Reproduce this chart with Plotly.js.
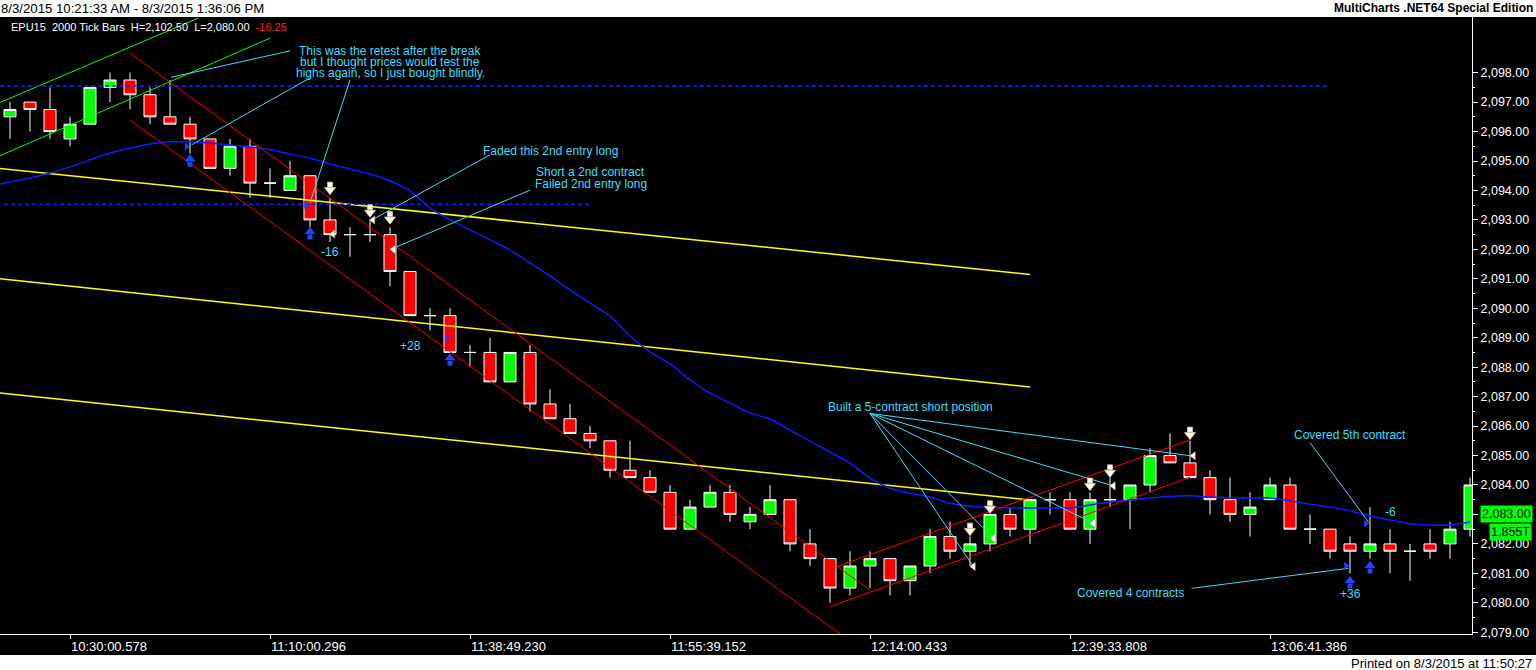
<!DOCTYPE html>
<html><head><meta charset="utf-8">
<script src="https://cdn.plot.ly/plotly-3.0.1.min.js"></script>
<style>html,body{margin:0;padding:0;background:#000;overflow:hidden}#chart{width:1536px;height:670px}</style>
</head><body><div id="chart"></div>
<script>
// ---------- DATA ----------
const barIndex = [0,1,2,3,4,5,6,7,8,9,10,11,12,13,14,15,16,17,18,19,20,21,22,23,24,25,26,27,28,29,30,31,32,33,34,35,36,37,38,39,40,41,42,43,44,45,46,47,48,49,50,51,52,53,54,55,56,57,58,59,60,61,62,63,64,65,66,67,68,69,70,71,72,73];
const openP  = [2096.5,2097.0,2096.75,2095.75,2096.25,2097.5,2097.75,2097.25,2096.5,2096.25,2095.75,2094.75,2095.5,2094.25,2094.0,2094.5,2093.0,2092.5,2092.5,2092.5,2091.25,2089.75,2089.75,2088.5,2088.5,2087.5,2088.5,2086.75,2086.25,2085.75,2085.5,2084.5,2084.25,2083.75,2082.5,2083.25,2083.75,2082.75,2083.0,2083.5,2082.0,2081.5,2080.5,2081.25,2081.5,2080.75,2081.25,2082.25,2081.75,2082.0,2083.0,2082.5,2083.5,2083.5,2082.5,2083.5,2083.5,2084.0,2085.0,2084.75,2084.25,2083.5,2083.0,2083.5,2084.0,2082.5,2082.5,2082.0,2081.75,2082.0,2081.75,2082.0,2082.0,2082.5];
const highP  = [2097.0,2097.0,2097.5,2096.5,2097.5,2098.0,2098.0,2097.5,2097.75,2096.5,2095.75,2095.75,2095.75,2094.75,2095.0,2094.5,2093.75,2092.75,2093.0,2092.75,2091.25,2090.0,2090.0,2088.75,2089.0,2088.5,2088.75,2087.25,2086.75,2086.0,2085.5,2085.5,2084.5,2084.0,2083.5,2084.0,2084.0,2083.25,2084.0,2083.5,2082.5,2081.5,2081.75,2081.75,2081.5,2081.25,2082.5,2082.75,2082.25,2083.0,2083.25,2083.5,2083.75,2083.75,2083.75,2084.25,2084.0,2085.25,2085.75,2085.5,2084.5,2084.25,2083.75,2084.25,2084.25,2083.0,2082.5,2082.25,2083.25,2082.5,2082.0,2082.5,2082.75,2084.25];
const lowP   = [2095.75,2096.0,2095.75,2095.5,2096.25,2097.0,2096.75,2096.25,2096.25,2095.25,2094.75,2094.5,2093.75,2093.75,2094.0,2092.75,2092.25,2091.75,2092.25,2090.75,2089.75,2089.25,2088.5,2088.0,2087.5,2087.5,2086.5,2086.25,2085.75,2085.25,2084.25,2084.25,2083.75,2082.5,2082.5,2083.25,2082.75,2082.5,2083.0,2081.75,2081.25,2080.0,2080.25,2080.5,2080.25,2080.25,2081.0,2081.5,2081.25,2081.75,2082.25,2082.0,2083.0,2082.5,2082.0,2083.25,2082.5,2083.75,2084.75,2084.25,2083.0,2082.75,2082.25,2083.5,2082.5,2082.0,2081.5,2081.0,2081.5,2081.0,2080.75,2081.5,2081.5,2082.25];
const closeP = [2096.75,2096.75,2096.0,2096.25,2097.5,2097.75,2097.25,2096.5,2096.25,2095.75,2094.75,2095.5,2094.25,2094.25,2094.5,2093.0,2092.5,2092.5,2092.5,2091.25,2089.75,2089.75,2088.5,2088.5,2087.5,2088.5,2086.75,2086.25,2085.75,2085.5,2084.5,2084.25,2083.75,2082.5,2083.25,2083.75,2083.0,2083.0,2083.5,2082.0,2081.5,2080.5,2081.25,2081.5,2080.75,2081.25,2082.25,2081.75,2082.0,2083.0,2082.5,2083.5,2083.5,2082.5,2083.5,2083.5,2084.0,2085.0,2084.75,2084.25,2083.5,2083.0,2083.25,2084.0,2082.5,2082.5,2081.75,2081.75,2082.0,2081.75,2081.75,2081.75,2082.5,2084.0];
const maIndex  = [-0.5,0,1,2,3,4,5,6,7,8,9,10,11,12,13,14,15,16,17,18,19,20,21,22,23,24,25,26,27,28,29,30,31,32,33,34,35,36,37,38,39,40,41,42,43,44,45,46,47,48,49,50,51,52,53,54,55,56,57,58,59,60,61,62,63,64,65,66,67,68,69,70,71,72,73];
const maValues = [2094.22,2094.29,2094.42,2094.59,2094.80,2095.04,2095.27,2095.44,2095.58,2095.65,2095.65,2095.61,2095.54,2095.48,2095.38,2095.24,2095.10,2094.90,2094.73,2094.56,2094.32,2093.98,2093.41,2093.00,2092.66,2092.32,2091.98,2091.54,2091.10,2090.62,2090.18,2089.74,2089.06,2088.52,2088.11,2087.57,2087.12,2086.78,2086.44,2086.24,2085.86,2085.49,2085.12,2084.74,2084.23,2083.89,2083.72,2083.59,2083.38,2083.28,2083.25,2083.22,2083.22,2083.22,2083.22,2083.32,2083.42,2083.49,2083.56,2083.61,2083.63,2083.59,2083.56,2083.56,2083.56,2083.46,2083.35,2083.25,2083.12,2082.95,2082.81,2082.68,2082.64,2082.64,2082.74];

const xTickIdx  = [3,13,23,33,43,53,63];
const xTickText = ['10:30:00.578','11:10:00.296','11:38:49.230','11:55:39.152','12:14:00.433','12:39:33.808','13:06:41.386'];
const yTickVals = [2079,2080,2081,2082,2083,2084,2085,2086,2087,2088,2089,2090,2091,2092,2093,2094,2095,2096,2097,2098];

// trend lines: [start index, end index] and [start price, end price]
const greenLinesX  = [[-0.5, 9.4], [-0.5, 13.0]];
const greenLinesY  = [[2096.99, 2099.85], [2095.18, 2099.17]];
const redLinesX    = [[6, 43], [6, 42], [41.33, 59], [41, 59]];
const redLinesY    = [[2098.66, 2080.43], [2096.39, 2078.70], [2081.23, 2085.53], [2079.87, 2084.26]];
const yellowLinesX = [[-0.5, 51], [-0.5, 51], [-0.5, 51]];
const yellowLinesY = [[2094.75, 2091.15], [2091.00, 2087.33], [2087.12, 2083.49]];
const dashLinesX   = [[-0.5, 66], [-0.3, 29]];
const dashLinesY   = [[2097.55, 2097.55], [2093.53, 2093.53]];

// note connectors
const connFromX = [14, 15, 17, 24, 26, 43, 43, 43, 43, 43, 59.08, 65];
const connFromY = [2098.74, 2097.82, 2097.75, 2095.21, 2094.01, 2086.43, 2086.43, 2086.43, 2086.43, 2086.43, 2080.49, 2085.44];
const connToX   = [8.05, 9.08, 15, 18.1, 19.17, 48.17, 49.17, 54.17, 55.17, 59.17, 66.92, 67.92];
const connToY   = [2097.84, 2095.55, 2093.58, 2093.0, 2092.04, 2081.23, 2082.19, 2082.70, 2083.97, 2084.98, 2081.17, 2082.75];

// notes
const noteText = ['This was the retest after the break','but I thought prices would test the','highs again, so I just bought blindly.','Faded this 2nd entry long','Short a 2nd contract','Failed 2nd entry long','-16','+28','Built a 5-contract short position','Covered 4 contracts','Covered 5th contract','-6','+36'];
const noteX = [19, 19, 19, 27, 29.03, 29.03, 16, 20, 45, 56, 67, 69, 67];
const noteY = [2098.74, 2098.36, 2097.99, 2095.34, 2094.62, 2094.22, 2091.92, 2088.72, 2086.66, 2080.32, 2085.70, 2083.09, 2080.29];

// trade markers
const shortArrowIdx   = [16, 18, 19, 48, 49, 54, 55, 59];
const shortArrowPrice = [2094.11, 2093.34, 2093.11, 2082.53, 2083.29, 2084.06, 2084.51, 2085.79];
const sellFillIdx     = [16.15, 18.15, 19.17, 48.17, 49.17, 54.17, 55.17, 59.17];
const sellFillPrice   = [2092.52, 2093.0, 2092.0, 2081.23, 2082.19, 2082.70, 2083.97, 2084.99];
const longArrowIdx    = [9, 15, 22, 67, 68];
const longArrowPrice  = [2094.98, 2092.51, 2088.22, 2080.66, 2081.17];
const buyFillIdx      = [8.83, 14.8, 21.85, 66.8, 67.8];
const buyFillPrice    = [2095.49, 2093.51, 2088.97, 2081.26, 2082.70];

const lastPrice = 2083.00;
const lastVolumeText = '1,855T';
const headerText = 'EPU15\u00a0\u00a02000 Tick Bars\u00a0\u00a0H=2,102.50\u00a0\u00a0L=2,080.00\u00a0\u00a0';
const headerChange = '-16.25';

// ---------- BUILD ----------
const Y_RANGE = [2078.94, 2099.89];
const PLOT_H = 617;
const pxPerPt = PLOT_H / (Y_RANGE[1] - Y_RANGE[0]);
const F = 'Arial, "Liberation Sans", sans-serif';
const CYAN = '#36DDFF';

function segTrace(xs, ys, color, width, dash) {
  const X = [], Y = [];
  xs.forEach((seg, i) => { X.push(seg[0], seg[1], null); Y.push(ys[i][0], ys[i][1], null); });
  return {type:'scatter', mode:'lines', x:X, y:Y, hoverinfo:'skip',
          line:{color:color, width:width, dash:dash || 'solid'}};
}

const traces = [];
traces.push({type:'candlestick', x:barIndex, open:openP, high:highP, low:lowP, close:closeP,
  increasing:{line:{color:'#ffffff', width:1}, fillcolor:'#00FF00'},
  decreasing:{line:{color:'#ffffff', width:1}, fillcolor:'#FF0000'},
  whiskerwidth:0, hoverinfo:'skip'});
traces.push(segTrace(yellowLinesX, yellowLinesY, '#FFFF00', 1.5));
traces.push({type:'scatter', mode:'lines', x:maIndex, y:maValues, hoverinfo:'skip',
  line:{color:'#0A1EFF', width:1.5, shape:'spline', smoothing:0.6}});
traces.push(segTrace(greenLinesX, greenLinesY, '#00FF00', 1));
traces.push(segTrace(redLinesX, redLinesY, '#FF0000', 1));
traces.push(segTrace(dashLinesX, dashLinesY, '#1020FF', 1.5, '4px,3px'));

// connectors
const cX = [], cY = [];
connFromX.forEach((v, i) => { cX.push(v, connToX[i], null); cY.push(connFromY[i], connToY[i], null); });
traces.push({type:'scatter', mode:'lines', x:cX, y:cY, hoverinfo:'skip', line:{color:CYAN, width:1}});

// fills
traces.push({type:'scatter', mode:'markers', x:buyFillIdx, y:buyFillPrice, hoverinfo:'skip',
  marker:{symbol:'triangle-right', size:7, color:'#1E3CFF', line:{width:0}}});
traces.push({type:'scatter', mode:'markers', x:sellFillIdx, y:sellFillPrice, hoverinfo:'skip',
  marker:{symbol:'triangle-left', size:7, color:'#ffffff', line:{color:'#C8B890', width:0.6}}});

// block arrows (head + stem)
const headOff = 2.7 / pxPerPt, stemOff = 2.6 / pxPerPt;
traces.push({type:'scatter', mode:'markers', x:shortArrowIdx, y:shortArrowPrice.map(p => p + stemOff), hoverinfo:'skip',
  marker:{symbol:'square', size:5, color:'#ffffff', line:{color:'#D8C890', width:0.8}}});
traces.push({type:'scatter', mode:'markers', x:shortArrowIdx, y:shortArrowPrice.map(p => p - headOff), hoverinfo:'skip',
  marker:{symbol:'triangle-down', size:9.5, color:'#ffffff', line:{color:'#D8C890', width:0.8}}});
traces.push({type:'scatter', mode:'markers', x:longArrowIdx, y:longArrowPrice.map(p => p - stemOff), hoverinfo:'skip',
  marker:{symbol:'square', size:5, color:'#1E46FF', line:{width:0}}});
traces.push({type:'scatter', mode:'markers', x:longArrowIdx, y:longArrowPrice.map(p => p + headOff), hoverinfo:'skip',
  marker:{symbol:'triangle-up', size:9.5, color:'#1E46FF', line:{width:0}}});

// last price pointer
traces.push({type:'scatter', mode:'markers', x:[73.42], y:[lastPrice], cliponaxis:false, hoverinfo:'skip',
  marker:{symbol:'triangle-left', size:13, color:'#00FF00', line:{width:0}}});

const annotations = noteText.map((t, i) => ({
  x:noteX[i], y:noteY[i], xref:'x', yref:'y', text:t, showarrow:false,
  xanchor:'center', yanchor:'middle', font:{family:F, size:12, color:CYAN}
}));
const py = px => (634 - px) / PLOT_H;
annotations.push({xref:'paper', yref:'paper', x:9/1472, y:py(27), xanchor:'left', yanchor:'middle', showarrow:false,
  text: headerText + '<span style="color:#FF2020">' + headerChange + '</span>', font:{family:F, size:11, color:'#ffffff'}});
annotations.push({xref:'paper', yref:'paper', x:-0.001, y:py(8), xanchor:'left', yanchor:'middle', showarrow:false,
  text:'8/3/2015 10:21:33 AM - 8/3/2015 1:36:06 PM', font:{family:F, size:13.2, color:'#000000'}});
annotations.push({xref:'paper', yref:'paper', x:1535/1472, y:py(8), xanchor:'right', yanchor:'middle', showarrow:false,
  text:'<b>MultiCharts .NET64 Special Edition</b>', font:{family:F, size:12, color:'#000000'}});
annotations.push({xref:'paper', yref:'paper', x:1534/1472, y:py(663), xanchor:'right', yanchor:'middle', showarrow:false,
  text:'Printed on 8/3/2015 at 11:50:27', font:{family:F, size:13, color:'#000000'}});
annotations.push({xref:'paper', yref:'y', x:1480/1472, y:lastPrice, xanchor:'left', yanchor:'middle', showarrow:false,
  text:lastPrice.toLocaleString('en-US', {minimumFractionDigits:2}), bgcolor:'#00FF00', borderpad:1,
  font:{family:F, size:12.5, color:'#000000'}});
annotations.push({xref:'paper', yref:'paper', x:1489/1472, y:py(532), xanchor:'left', yanchor:'middle', showarrow:false,
  text:lastVolumeText, bgcolor:'#00FF00', borderpad:1, font:{family:F, size:12.5, color:'#000000'}});

const minorVals = yTickVals.slice(0, -1).map(v => v + 0.5);

const layout = {
  width:1536, height:670,
  margin:{l:0, r:64, t:17, b:36, pad:0},
  paper_bgcolor:'#000000', plot_bgcolor:'#000000',
  showlegend:false, hovermode:false,
  boxgap:0.25, boxgroupgap:0.2,
  xaxis:{range:[-0.5, 73.1], showgrid:false, zeroline:false, showline:true, linecolor:'#ffffff', linewidth:1,
    tickmode:'array', tickvals:xTickIdx, ticktext:xTickText, ticks:'outside', ticklen:4, tickcolor:'#ffffff',
    ticklabelposition:'outside right', tickfont:{family:F, size:13, color:'#ffffff'},
    rangeslider:{visible:false}, fixedrange:true},
  yaxis:{range:Y_RANGE, side:'right', showgrid:false, zeroline:false, showline:true, linecolor:'#ffffff', linewidth:1,
    tickmode:'array', tickvals:yTickVals, tickformat:',.2f', ticks:'outside', ticklen:5, tickcolor:'#ffffff',
    tickfont:{family:F, size:12.5, color:'#ffffff'}, fixedrange:true,
    minor:{tickmode:'array', tickvals:minorVals, ticks:'outside', ticklen:2, tickcolor:'#ffffff', showgrid:false}},
  shapes:[
    {type:'rect', xref:'paper', yref:'paper', x0:-0.01, x1:1.06, y0:1, y1:1.1, fillcolor:'#ffffff', line:{width:0}, layer:'below'},
    {type:'rect', xref:'paper', yref:'paper', x0:-0.01, x1:1.06, y0:-0.1, y1:py(655), fillcolor:'#ffffff', line:{width:0}, layer:'below'}
  ],
  annotations:annotations
};

Plotly.newPlot('chart', traces, layout, {displayModeBar:false, staticPlot:true});
</script></body></html>
